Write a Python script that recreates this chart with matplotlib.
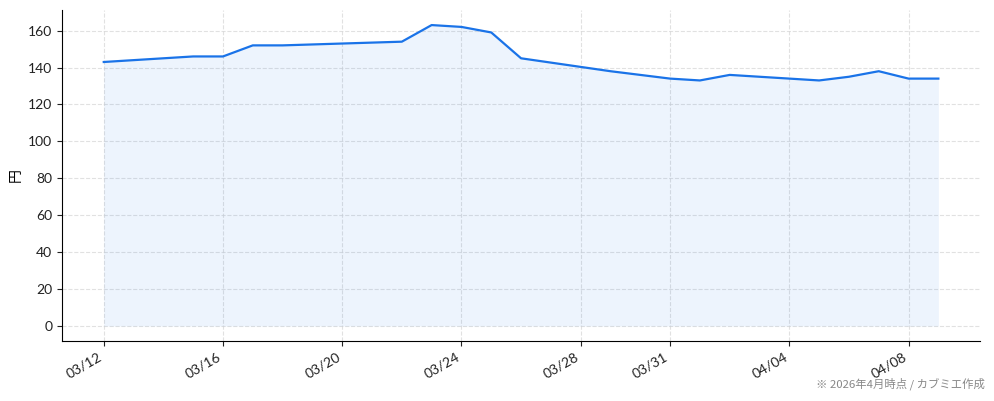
import matplotlib
matplotlib.use("Agg")
import matplotlib.pyplot as plt
import matplotlib.dates as mdates
import pandas as pd

dates = ["2026-03-12", "2026-03-15", "2026-03-16", "2026-03-17", "2026-03-18",
         "2026-03-22", "2026-03-23", "2026-03-24", "2026-03-25", "2026-03-26",
         "2026-03-29", "2026-03-31", "2026-04-01", "2026-04-02", "2026-04-05",
         "2026-04-06", "2026-04-07", "2026-04-08", "2026-04-09"]
prices = [143, 146, 146, 152, 152,
          154, 163, 162, 159, 145,
          138, 134, 133, 136, 133,
          135, 138, 134, 134]
tick_dates = ["2026-03-12", "2026-03-16", "2026-03-20", "2026-03-24",
              "2026-03-28", "2026-03-31", "2026-04-04", "2026-04-08"]
ylabel = "円"
footer = "※ 2026年4月時点 / カブミエ作成"

plt.rcParams['font.family'] = ['Lato', 'Noto Sans CJK JP', 'DejaVu Sans']

x = pd.to_datetime(dates)
fig, ax = plt.subplots(figsize=(9.94, 4.01), dpi=100)
ax.plot(x, prices, color="#1a73e8", linewidth=1.6, zorder=3)
ax.fill_between(x, prices, 0, color="#1a73e8", alpha=0.08, linewidth=0, zorder=2)

ax.set_xticks(pd.to_datetime(tick_dates))
ax.xaxis.set_major_formatter(mdates.DateFormatter("%m/%d"))
plt.setp(ax.get_xticklabels(), rotation=30, ha="right")
ax.tick_params(labelsize=10, colors="#222222")
ax.set_yticks(range(0, 161, 20))
ax.set_ylabel(ylabel, fontsize=10, family=['Noto Sans CJK JP', 'DejaVu Sans'])

ax.grid(True, linestyle="--", color="#d5d5d5", alpha=0.7, linewidth=0.8)
ax.set_axisbelow(True)
for s in ["top", "right"]:
    ax.spines[s].set_visible(False)

fig.subplots_adjust(left=0.0624, right=0.986, bottom=0.1496, top=0.975)
fig.text(0.991, 0.027, footer, ha="right", va="bottom", fontsize=8.2,
         color="#888888", family=['Noto Sans CJK JP', 'DejaVu Sans'])

fig.savefig("out.png", dpi=100)
